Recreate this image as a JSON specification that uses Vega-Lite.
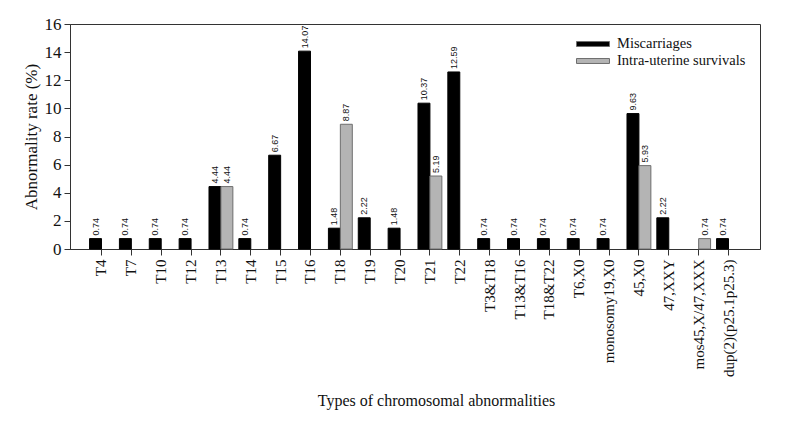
{
  "$schema": "https://vega.github.io/schema/vega-lite/v6.json",
  "width": 690,
  "height": 225,
  "autosize": {"type": "none"},
  "padding": {"left": 70, "top": 24, "right": 28, "bottom": 178},
  "background": "white",
  "config": {
    "view": {"stroke": "#333", "strokeWidth": 1},
    "axis": {"grid": false, "domainColor": "#333", "tickColor": "#333", "labelColor": "#111", "titleColor": "#111", "titleFontWeight": "normal", "labelFont": "Liberation Serif", "titleFont": "Liberation Serif"},
    "legend": {"labelFont": "Liberation Serif", "labelFontSize": 14.5}
  },
  "data": {
    "values": [
      {"type": "T4", "group": "Miscarriages", "rate": 0.74},
      {"type": "T7", "group": "Miscarriages", "rate": 0.74},
      {"type": "T10", "group": "Miscarriages", "rate": 0.74},
      {"type": "T12", "group": "Miscarriages", "rate": 0.74},
      {"type": "T13", "group": "Miscarriages", "rate": 4.44},
      {"type": "T13", "group": "Intra-uterine survivals", "rate": 4.44},
      {"type": "T14", "group": "Miscarriages", "rate": 0.74},
      {"type": "T15", "group": "Miscarriages", "rate": 6.67},
      {"type": "T16", "group": "Miscarriages", "rate": 14.07},
      {"type": "T18", "group": "Miscarriages", "rate": 1.48},
      {"type": "T18", "group": "Intra-uterine survivals", "rate": 8.87},
      {"type": "T19", "group": "Miscarriages", "rate": 2.22},
      {"type": "T20", "group": "Miscarriages", "rate": 1.48},
      {"type": "T21", "group": "Miscarriages", "rate": 10.37},
      {"type": "T21", "group": "Intra-uterine survivals", "rate": 5.19},
      {"type": "T22", "group": "Miscarriages", "rate": 12.59},
      {"type": "T3&T18", "group": "Miscarriages", "rate": 0.74},
      {"type": "T13&T16", "group": "Miscarriages", "rate": 0.74},
      {"type": "T18&T22", "group": "Miscarriages", "rate": 0.74},
      {"type": "T6,X0", "group": "Miscarriages", "rate": 0.74},
      {"type": "monosomy19,X0", "group": "Miscarriages", "rate": 0.74},
      {"type": "45,X0", "group": "Miscarriages", "rate": 9.63},
      {"type": "45,X0", "group": "Intra-uterine survivals", "rate": 5.93},
      {"type": "47,XXY", "group": "Miscarriages", "rate": 2.22},
      {"type": "mos45,X/47,XXX", "group": "Intra-uterine survivals", "rate": 0.74},
      {"type": "dup(2)(p25.1p25.3)", "group": "Miscarriages", "rate": 0.74}
    ]
  },
  "encoding": {
    "x": {
      "field": "type",
      "type": "nominal",
      "sort": ["T4","T7","T10","T12","T13","T14","T15","T16","T18","T19","T20","T21","T22","T3&T18","T13&T16","T18&T22","T6,X0","monosomy19,X0","45,X0","47,XXY","mos45,X/47,XXX","dup(2)(p25.1p25.3)"],
      "scale": {"paddingInner": 0.2, "paddingOuter": 0.655},
      "axis": {
        "title": "Types of chromosomal abnormalities",
        "titleFontSize": 16,
        "titleX": 366,
        "titleY": 156,
        "titleBaseline": "alphabetic",
        "titleAnchor": "middle",
        "labelAngle": -90,
        "labelFontSize": 15,
        "labelPadding": 4,
        "tickSize": 6
      }
    },
    "xOffset": {
      "field": "group",
      "type": "nominal",
      "sort": ["Miscarriages", "Intra-uterine survivals"],
      "scale": {"domain": ["Miscarriages", "Intra-uterine survivals"], "paddingInner": 0, "paddingOuter": 0}
    },
    "y": {
      "field": "rate",
      "type": "quantitative",
      "scale": {"domain": [0, 16]},
      "axis": {
        "title": "Abnormality rate (%)",
        "titleFontSize": 17,
        "titlePadding": 4,
        "labelFontSize": 17,
        "labelPadding": 3,
        "tickSize": 6,
        "values": [0,2,4,6,8,10,12,14,16]
      }
    },
    "color": {
      "field": "group",
      "type": "nominal",
      "scale": {"domain": ["Miscarriages", "Intra-uterine survivals"], "range": ["#000000", "#b4b4b4"]},
      "legend": {
        "title": null,
        "orient": "none",
        "legendX": 514,
        "legendY": 11,
        "padding": 0,
        "symbolType": "M-2,-0.3L2,-0.3L2,0.3L-2,0.3Z",
        "symbolSize": 272,
        "symbolStrokeColor": "#6e6e6e",
        "symbolStrokeWidth": 1,
        "labelFont": "Liberation Serif",
        "labelFontSize": 14.5,
        "labelColor": "#111",
        "labelOffset": 15,
        "rowPadding": 1
      }
    }
  },
  "layer": [
    {
      "mark": {"type": "bar", "strokeWidth": 1},
      "encoding": {
        "stroke": {
          "condition": {"test": "datum.group === 'Miscarriages'", "value": "#000000"},
          "value": "#6e6e6e"
        }
      }
    },
    {
      "mark": {"type": "text", "angle": -90, "align": "left", "baseline": "middle", "dx": 3, "font": "Liberation Sans", "fontSize": 9},
      "encoding": {
        "text": {"field": "rate", "type": "quantitative", "format": ".2f"},
        "color": {"value": "#111"}
      }
    }
  ]
}
